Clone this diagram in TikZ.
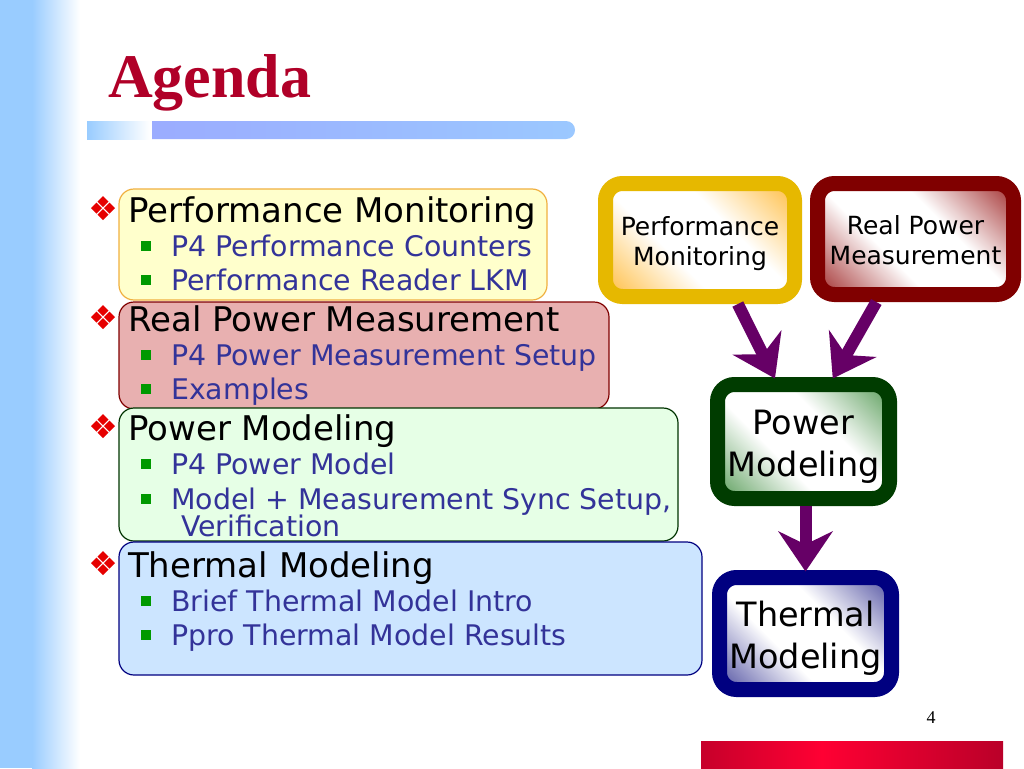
\documentclass[tikz,border=0pt]{standalone}
\usepackage{fontspec}
\setmainfont{DejaVu Sans}
\newfontfamily\titlefont{Liberation Serif}
\usetikzlibrary{arrows.meta,calc}
\definecolor{stripblue}{RGB}{153,204,255}
\definecolor{barperi}{RGB}{155,172,255}
\definecolor{barlight}{RGB}{155,200,255}
\definecolor{titlered}{RGB}{176,0,40}
\definecolor{subnavy}{RGB}{51,51,153}
\definecolor{bulletgreen}{RGB}{0,153,0}
\definecolor{bulletred}{RGB}{230,0,0}
\definecolor{boxAfill}{RGB}{255,255,204}
\definecolor{boxAdraw}{RGB}{240,176,64}
\definecolor{boxBfill}{RGB}{232,176,176}
\definecolor{boxBdraw}{RGB}{128,0,0}
\definecolor{boxCfill}{RGB}{230,255,230}
\definecolor{boxCdraw}{RGB}{0,51,0}
\definecolor{boxDfill}{RGB}{204,229,255}
\definecolor{boxDdraw}{RGB}{0,0,128}
\definecolor{goldb}{RGB}{230,184,0}
\definecolor{maroonb}{RGB}{128,0,0}
\definecolor{forestb}{RGB}{0,60,0}
\definecolor{navyb}{RGB}{0,0,128}
\definecolor{arrowpurple}{RGB}{102,0,102}
\definecolor{pmtint}{RGB}{255,180,40}
\definecolor{rpmtint}{RGB}{150,20,20}
\definecolor{pmodtint}{RGB}{70,145,70}
\definecolor{thtint}{RGB}{60,60,150}
\definecolor{bardark}{RGB}{128,0,32}
\definecolor{barbright}{RGB}{255,0,51}
\pgfdeclarehorizontalshading{pmshade}{100bp}{color(0bp)=(pmtint); color(12bp)=(pmtint); color(40bp)=(white); color(60bp)=(white); color(88bp)=(pmtint); color(100bp)=(pmtint)}
\pgfdeclarehorizontalshading{rpmshade}{100bp}{color(0bp)=(rpmtint); color(12bp)=(rpmtint); color(40bp)=(white); color(60bp)=(white); color(88bp)=(rpmtint); color(100bp)=(rpmtint)}
\pgfdeclarehorizontalshading{pmodshade}{100bp}{color(0bp)=(pmodtint); color(12bp)=(pmodtint); color(40bp)=(white); color(60bp)=(white); color(88bp)=(pmodtint); color(100bp)=(pmodtint)}
\pgfdeclarehorizontalshading{thshade}{100bp}{color(0bp)=(thtint); color(12bp)=(thtint); color(40bp)=(white); color(60bp)=(white); color(88bp)=(thtint); color(100bp)=(thtint)}
\pgfdeclarehorizontalshading{redbar}{100bp}{color(0bp)=(bardark); color(45bp)=(barbright); color(100bp)=(bardark)}
\newcommand\twolines[3]{\raisebox{#1}[\height][\depth]{\begin{tabular}{@{}c@{}}#2\\#3\end{tabular}}}
\begin{document}
\begin{tikzpicture}[x=1pt,y=-1pt,
  lbox/.style={rounded corners=15pt, line width=1.2pt, inner sep=0pt, outer sep=0pt},
  mainitem/.style={anchor=base west, inner sep=0pt, font=\fontsize{34}{40}\selectfont, text=black},
  subitem/.style={anchor=base west, inner sep=0pt, font=\fontsize{28.4}{34}\selectfont, text=subnavy},
  flowbox/.style={rounded corners=17pt, line width=15pt, inner sep=0pt, outer sep=0pt, shading angle=45},
  smalltxt/.style={font=\fontsize{25}{30}\selectfont},
  bigtxt/.style={font=\fontsize{33.5}{42}\selectfont},
  flow/.style={draw=arrowpurple, line width=12pt, -{Stealth[length=40pt, width=54pt, inset=13pt, fill=arrowpurple]}},
  fleur/.pic={\foreach \dx/\dy in {-6.5/0,6.5/0,0/-6.5,0/6.5}
     \fill[bulletred] (\dx,\dy) +(-5.5,0) -- +(0,-5.5) -- +(5.5,0) -- +(0,5.5) -- cycle;},
  sq/.pic={\fill[bulletgreen] (-5,-5) rectangle (5,5);}
]
\useasboundingbox (0,0) rectangle (1024,768);
\fill[white] (0,0) rectangle (1024,768);
% left strip
\fill[stripblue] (0,0) rectangle (32,768);
\shade[left color=stripblue, right color=white] (32,0) rectangle (80,768);
% title
\node (title) [anchor=base west, inner sep=0pt, text=titlered] at (108,97) {\titlefont\bfseries\fontsize{62}{70}\selectfont Agenda};
% title bar
\shade[left color=stripblue, right color=white] (87,121) rectangle (150,139);
\shade[left color=barperi, right color=barlight] (152,121) -- (566,121) arc[start angle=-90, end angle=90, radius=9] -- (152,139) -- cycle;
% left boxes
\node[lbox, fill=boxAfill, draw=boxAdraw, minimum width=428pt, minimum height=111pt] (boxA) at (333,244.5) {};
\node[lbox, fill=boxBfill, draw=boxBdraw, minimum width=490pt, minimum height=107pt] (boxB) at (364,355.5) {};
\node[lbox, fill=boxCfill, draw=boxCdraw, minimum width=559pt, minimum height=133pt] (boxC) at (398.5,474.5) {};
\node[lbox, fill=boxDfill, draw=boxDdraw, minimum width=583pt, minimum height=133pt] (boxD) at (410.5,608.5) {};
% bullets
\pic at (103,208) {fleur};
\pic at (103,317) {fleur};
\pic at (103,426) {fleur};
\pic at (103,563) {fleur};
\foreach \yy in {246,280,355,389,464,499,601,635} \pic at (146,\yy) {sq};
% texts
\node[mainitem] (t1) at (128,222) {Performance Monitoring};
\node[subitem] (t1a) at (171,256) {P4 Performance Counters};
\node[subitem] (t1b) at (171,290) {Performance Reader LKM};
\node[mainitem] (t2) at (128,331) {Real Power Measurement};
\node[subitem] (t2a) at (171,365) {P4 Power Measurement Setup};
\node[subitem] (t2b) at (171,399) {Examples};
\node[mainitem] (t3) at (128,440) {Power Modeling};
\node[subitem] (t3a) at (171,474) {P4 Power Model};
\node[subitem] (t3b) at (171,509) {Model + Measurement Sync Setup,};
\node[subitem] (t3c) at (181,536) {Verification};
\node[mainitem] (t4) at (128,577) {Thermal Modeling};
\node[subitem] (t4a) at (171,611) {Brief Thermal Model Intro};
\node[subitem] (t4b) at (171,645) {Ppro Thermal Model Results};
% flow boxes
\node[flowbox, draw=goldb, shading=pmshade, minimum width=189pt, minimum height=113pt, smalltxt] (pm) at (700,240) {\twolines{-4pt}{Performance}{Monitoring}};
\node[flowbox, draw=maroonb, shading=rpmshade, minimum width=196pt, minimum height=111pt, smalltxt] (rpm) at (915.5,239) {\twolines{-4pt}{Real Power}{Measurement}};
\node[flowbox, draw=forestb, shading=pmodshade, minimum width=172pt, minimum height=114pt, bigtxt] (pmod) at (803.5,441.5) {\twolines{-6pt}{Power}{Modeling}};
\node[flowbox, draw=navyb, shading=thshade, minimum width=172pt, minimum height=112pt, bigtxt] (th) at (805.5,633.5) {\twolines{-6pt}{Thermal}{Modeling}};
% arrows
\draw[flow] ($(pm.south west)!0.70!(pm.south east)+(0,7.5)$) -- ($(pmod.north west)!0.334!(pmod.north east)+(0,-6)$);
\draw[flow] ($(rpm.south west)!0.30!(rpm.south east)+(0,7.5)$) -- ($(pmod.north west)!0.67!(pmod.north east)+(0,-6)$);
\draw[flow] ($(pmod.south)+(2,7.5)$) -- ($(th.north)+(0,-6)$);
% page number and bottom bar
\node (pnum) at (931,718) {\titlefont\fontsize{18}{20}\selectfont 4};
\shade[shading=redbar] (701,741) rectangle (1003,768);
\end{tikzpicture}
\end{document}
